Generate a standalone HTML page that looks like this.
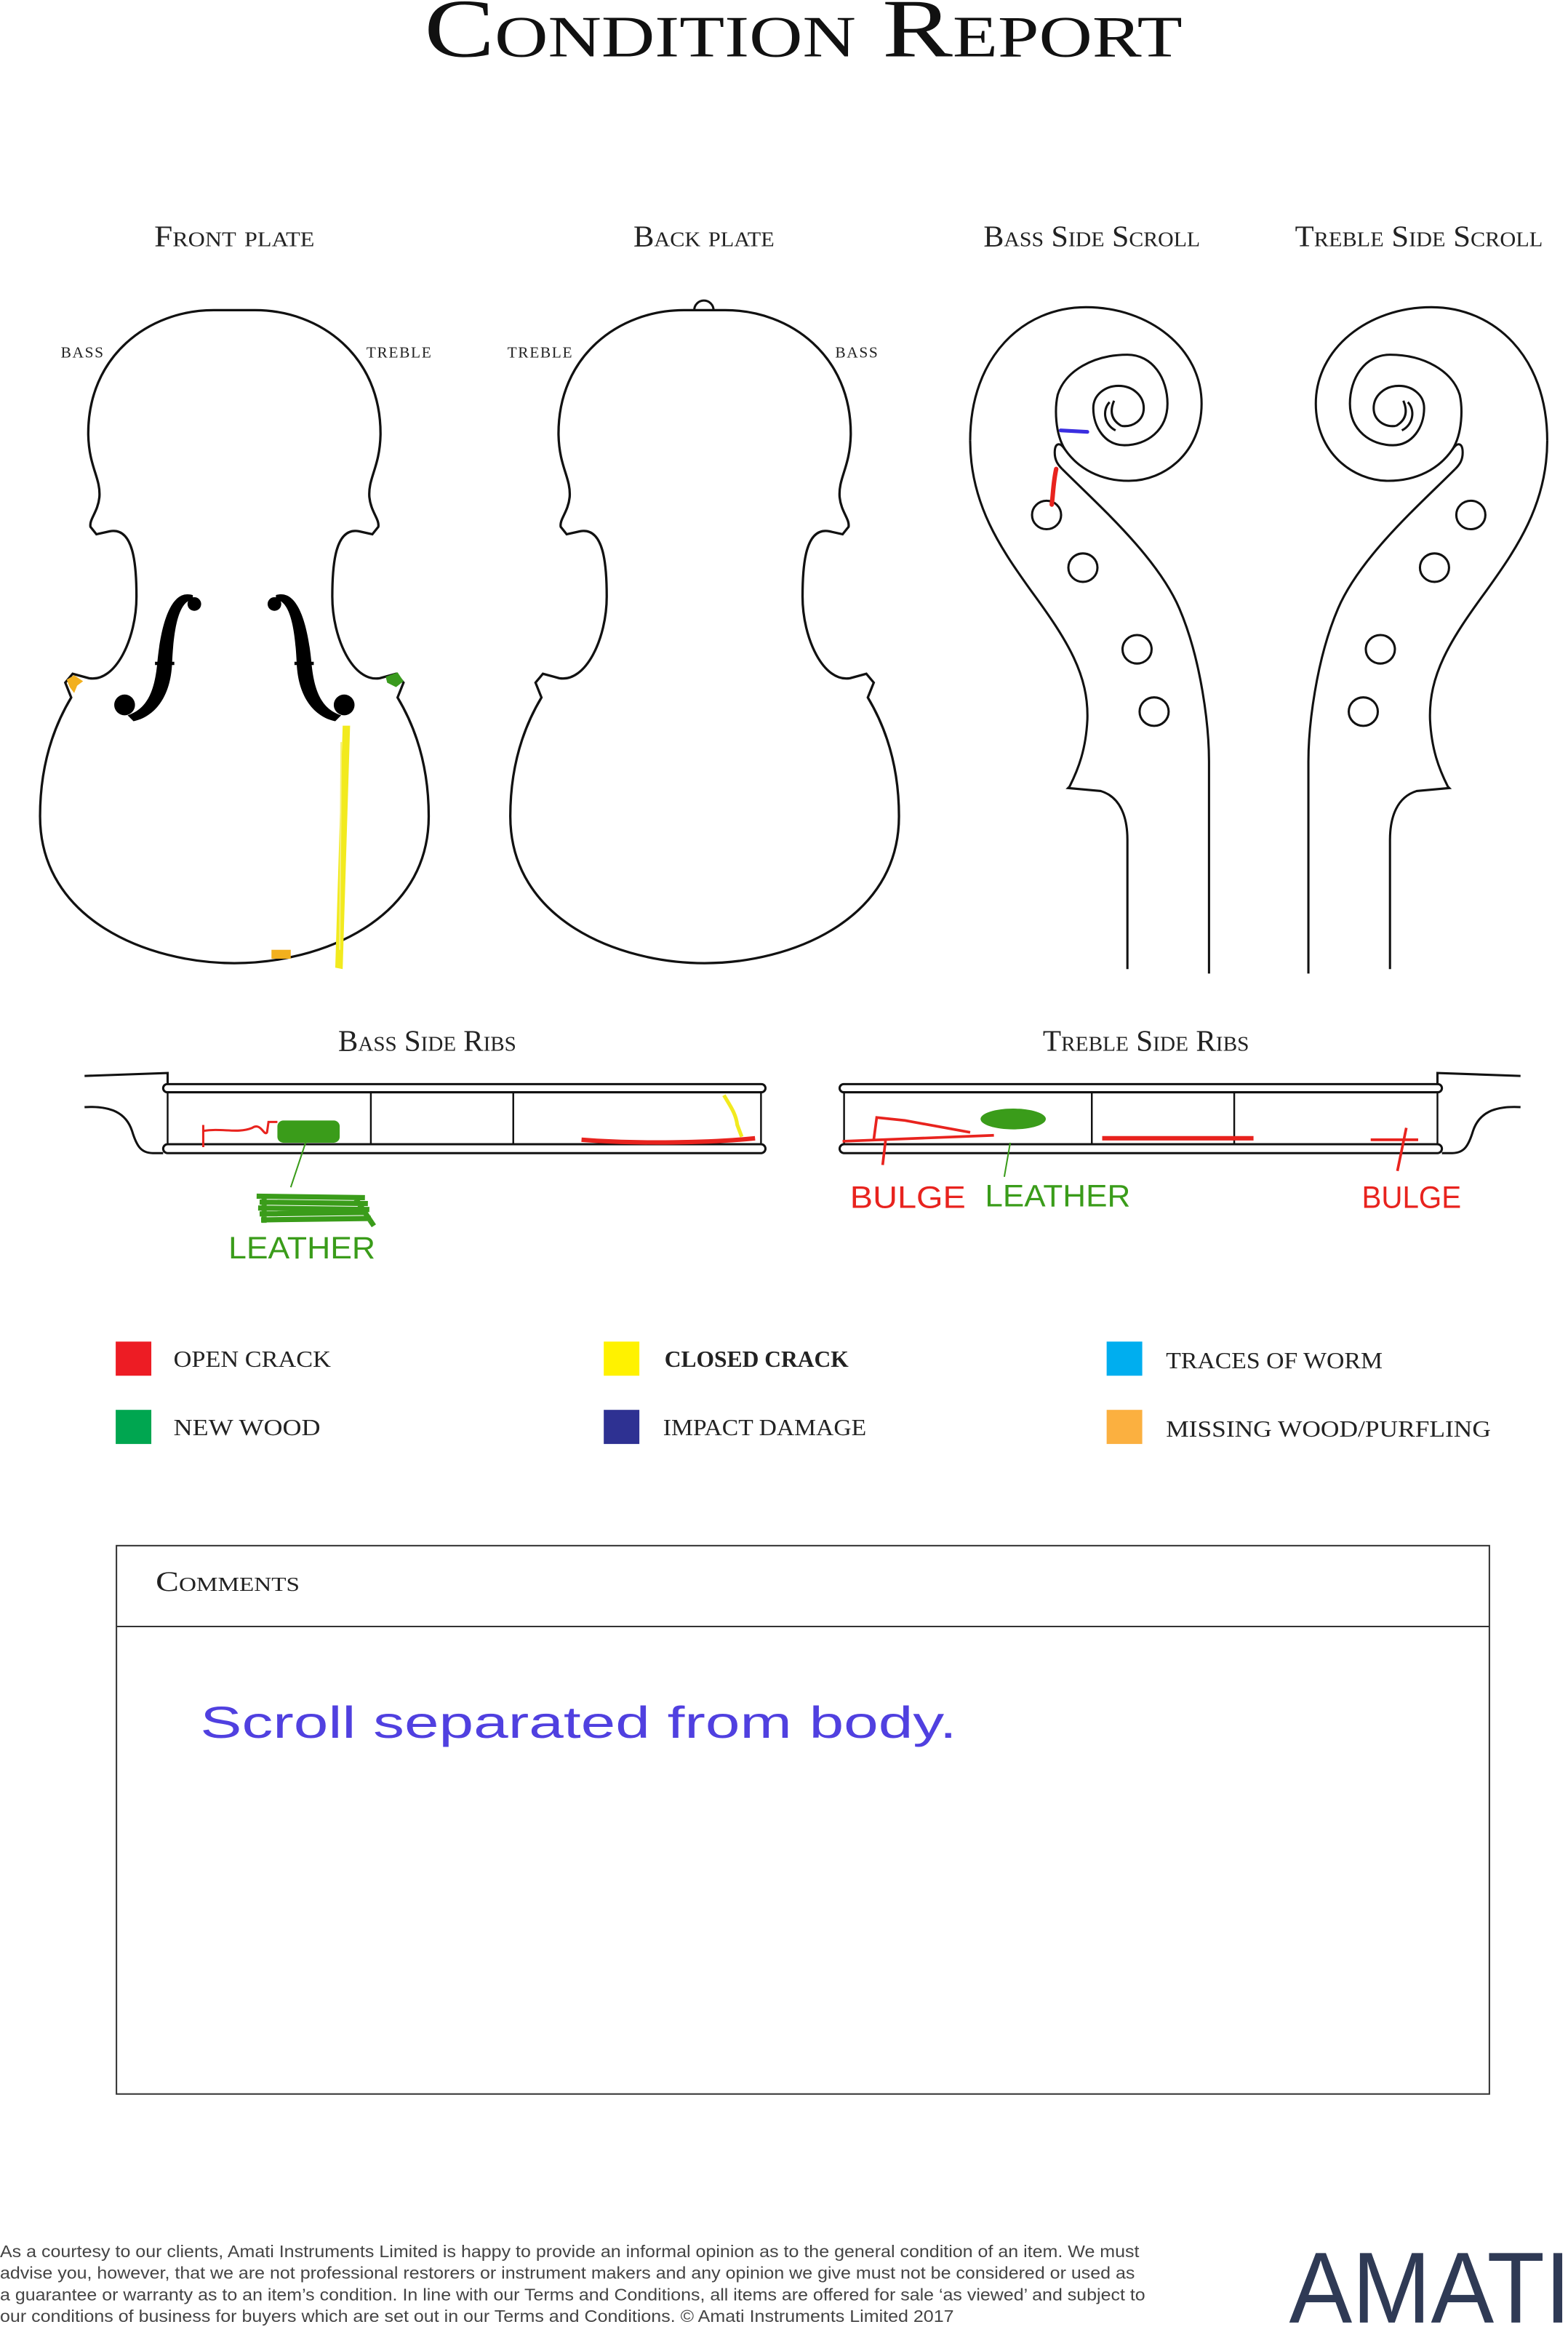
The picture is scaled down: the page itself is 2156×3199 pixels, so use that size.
<!DOCTYPE html>
<html><head><meta charset="utf-8"><style>
html,body{margin:0;padding:0;background:#fff;}
svg{display:block;}
</style></head><body>
<svg xmlns="http://www.w3.org/2000/svg" xmlns:xlink="http://www.w3.org/1999/xlink" width="2156" height="3199" viewBox="0 0 1057 1568" preserveAspectRatio="none">
<defs>
<path id="body" d="M158,209 L144,209 C100,209 59,240 59.5,293 C60,315 68,322 67,335 C66,345 60,350 61,355 L65,360 L74,358 C90,355 92,380 92,402 C92,430 78,460 60,457 L49,454 L44,460 L48,470 C30,500 27,530 27,550 C27,620 100,649 158,649 C216,649 289,620 289,550 C289,530 286,500 268,470 L272,460 L267,454 L256,457 C238,460 224,430 224,402 C224,380 226,355 242,358 L251,360 L255,355 C256,350 250,345 249,335 C248,322 256,315 256.5,293 C257,240 216,209 172,209 Z" fill="none" stroke="#111" stroke-width="1.6"/>
<g id="fhole">
<path d="M130,401 C114,396 108,425 106,447 C104,468 98,478 86,482 L90,486 C104,483 115,470 116,447 C117,425 120,405 130,404 Z" fill="#000"/>
<circle cx="131" cy="407" r="4.6" fill="#000"/>
<circle cx="84" cy="475" r="7" fill="#000"/>
<line x1="104.5" y1="447" x2="117.5" y2="447" stroke="#000" stroke-width="2.2"/>
</g>
<g id="scroll" fill="none" stroke="#111" stroke-width="1.5">
<path d="M716,316 C740,340 780,375 795,410 C810,445 815,490 815,513 L815,656"/>
<path d="M654,297 C654,340 675,370 695,398 C720,432 734,455 733,485 C732,505 727,518 721,530 L720,531 L742,533 C755,537 760,550 760,566 L760,653"/>
<path d="M654,297 C654,240 690,207 732,207 C775,207 810,235 810,272 C810,305 785,324 761,324 C742,324 727,316 718,303 C714,297 711,299 711,305 C711,310 713,313 716,316"/>
<path d="M718,303 C711,292 711,275 713,266 C718,250 737,239 760,239 C777,239 787,255 787,272 C787,290 773,300 758,300 C745,300 737,288 737,275 C737,266 745,260 754,260 C764,260 771,267 771,275 C771,283 764,288 756,287"/>
<path d="M748,271 C743,276 744,286 752,290 M751,270 C748,277 749,283 756,287"/>
<ellipse cx="705.5" cy="347" rx="9.8" ry="9.6"/>
<ellipse cx="730" cy="382.5" rx="9.8" ry="9.6"/>
<ellipse cx="766.5" cy="437.5" rx="9.8" ry="9.6"/>
<ellipse cx="778" cy="479.5" rx="9.8" ry="9.6"/>
</g>
<g id="ribs" fill="none" stroke="#111" stroke-width="1.5">
<rect x="110" y="730.5" width="406" height="5.5" rx="2.75"/>
<rect x="110" y="771" width="406" height="6" rx="3"/>
<line x1="113" y1="736" x2="113" y2="771" stroke-width="1.2"/>
<line x1="513" y1="736" x2="513" y2="771" stroke-width="1.2"/>
<line x1="250" y1="736" x2="250" y2="771" stroke-width="1.2"/>
<line x1="346" y1="736" x2="346" y2="771" stroke-width="1.2"/>
<path d="M57,725 L113,723 L113,731"/>
<path d="M57,746 C75,745 85,750 89,762 C92,772 95,777 103,777 L110,777"/>
</g>
</defs>

<text x="286" y="38" font-family="Liberation Serif, serif" font-size="56" font-variant="small-caps" textLength="511" lengthAdjust="spacingAndGlyphs" fill="#111">Condition Report</text>

<g font-family="Liberation Serif, serif" font-size="20" font-variant="small-caps" fill="#222">
<text x="104" y="166" textLength="108" lengthAdjust="spacingAndGlyphs">Front plate</text>
<text x="427" y="166" textLength="95" lengthAdjust="spacingAndGlyphs">Back plate</text>
<text x="663" y="166" textLength="146" lengthAdjust="spacingAndGlyphs">Bass Side Scroll</text>
<text x="873" y="166" textLength="167" lengthAdjust="spacingAndGlyphs">Treble Side Scroll</text>
<text x="228" y="708" textLength="120" lengthAdjust="spacingAndGlyphs">Bass Side Ribs</text>
<text x="703" y="708" textLength="139" lengthAdjust="spacingAndGlyphs">Treble Side Ribs</text>
</g>
<g font-family="Liberation Serif, serif" font-size="10.5" fill="#222" letter-spacing="0.8">
<text x="41" y="241">BASS</text>
<text x="247" y="241">TREBLE</text>
<text x="342" y="241">TREBLE</text>
<text x="563" y="241">BASS</text>
</g>

<use xlink:href="#body"/>
<use xlink:href="#fhole"/>
<use xlink:href="#fhole" transform="translate(316,0) scale(-1,1)"/>
<path d="M231,489 L236,489 L231,653 L226,652 Z" fill="#f2ea1e"/>
<path d="M230,500 L229,640" stroke="#f6f07a" stroke-width="1"/>
<rect x="183" y="640" width="13" height="6" fill="#f2b01e"/>
<path d="M45,458 L50,455 L56,459 L52,462 L50,467 L47,463 Z" fill="#f2b01e"/>
<path d="M260,456 L268,453 L272,459 L267,463 L261,460 Z" fill="#3a9a1e"/>

<path d="M468,209 A6.5,6.5 0 0 1 481,209" fill="none" stroke="#111" stroke-width="1.5"/>
<use xlink:href="#body" transform="translate(317,0)"/>

<use xlink:href="#scroll"/>
<use xlink:href="#scroll" transform="translate(1697,0) scale(-1,1)"/>
<path d="M715,290 L733,291" stroke="#3a2ee0" stroke-width="2.5" stroke-linecap="round"/>
<path d="M712,316 C710,325 710,332 709,340" stroke="#e8231e" stroke-width="3" fill="none" stroke-linecap="round"/>

<use xlink:href="#ribs"/>
<use xlink:href="#ribs" transform="translate(1082,0) scale(-1,1)"/>

<path d="M137,773 L137,758 M137,762 C150,760 160,764 170,760 C176,756 178,766 180,763 L181,756 L187,756" fill="none" stroke="#e8231e" stroke-width="1.5"/>
<rect x="187" y="755" width="42" height="15" rx="4" fill="#3a9c1a"/>
<path d="M206,770 L196,800" stroke="#3a9c1a" stroke-width="1"/>
<g stroke="#3a9c1a" stroke-width="3.5" fill="none">
<path d="M173,806 L246,807 M175,810 L248,811 M174,814 L249,815 M175,818 L248,817 M176,822 L250,821 M178,806 L178,824 M240,808 L252,826"/>
</g>
<text x="154" y="848" font-family="Liberation Sans, sans-serif" font-size="21" fill="#3a9c1a" textLength="99" lengthAdjust="spacingAndGlyphs">LEATHER</text>
<path d="M392,768 C430,771 480,770 509,767" fill="none" stroke="#e8231e" stroke-width="3"/>
<path d="M488,738 C492,745 496,750 497,758 L500,766" fill="none" stroke="#f2ea1e" stroke-width="2.5"/>

<path d="M568,769 L670,765 M589,768 L591,753 L610,755 L654,763 M597,768 L595,785" fill="none" stroke="#e8231e" stroke-width="1.8"/>
<ellipse cx="683" cy="754" rx="22" ry="7" fill="#3a9c1a"/>
<path d="M681,770 L677,793" stroke="#3a9c1a" stroke-width="1"/>
<path d="M743,767 L845,767" stroke="#e8231e" stroke-width="3"/>
<path d="M924,768 L956,768 M948,760 L942,789" stroke="#e8231e" stroke-width="1.8" fill="none"/>
<g font-family="Liberation Sans, sans-serif" font-size="21">
<text x="573" y="814" fill="#e8231e" textLength="78" lengthAdjust="spacingAndGlyphs">BULGE</text>
<text x="664" y="813" fill="#3a9c1a" textLength="98" lengthAdjust="spacingAndGlyphs">LEATHER</text>
<text x="918" y="814" fill="#e8231e" textLength="67" lengthAdjust="spacingAndGlyphs">BULGE</text>
</g>

<rect x="78" y="904" width="24" height="23" fill="#ed1c24"/>
<rect x="78" y="950" width="24" height="23" fill="#00a650"/>
<rect x="407" y="904" width="24" height="23" fill="#fff200"/>
<rect x="407" y="950" width="24" height="23" fill="#2e3192"/>
<rect x="746" y="904" width="24" height="23" fill="#00aeef"/>
<rect x="746" y="950" width="24" height="23" fill="#fbb040"/>
<g font-family="Liberation Serif, serif" font-size="15.5" fill="#222">
<text x="117" y="921" textLength="106" lengthAdjust="spacingAndGlyphs">OPEN CRACK</text>
<text x="117" y="967" textLength="99" lengthAdjust="spacingAndGlyphs">NEW WOOD</text>
<text x="448" y="921" textLength="124" lengthAdjust="spacingAndGlyphs" font-weight="bold">CLOSED CRACK</text>
<text x="447" y="967" textLength="137" lengthAdjust="spacingAndGlyphs">IMPACT DAMAGE</text>
<text x="786" y="922" textLength="146" lengthAdjust="spacingAndGlyphs">TRACES OF WORM</text>
<text x="786" y="968" textLength="219" lengthAdjust="spacingAndGlyphs">MISSING WOOD/PURFLING</text>
</g>

<rect x="78.5" y="1041.5" width="925.5" height="369.5" fill="none" stroke="#333" stroke-width="1"/>
<line x1="78.5" y1="1096" x2="1004" y2="1096" stroke="#333" stroke-width="1"/>
<text x="105" y="1072" font-family="Liberation Serif, serif" font-size="19" font-variant="small-caps" fill="#222" textLength="97" lengthAdjust="spacingAndGlyphs">Comments</text>
<text x="135" y="1171" font-family="Liberation Sans, sans-serif" font-size="30" fill="#5040e0" textLength="510" lengthAdjust="spacingAndGlyphs">Scroll  separated  from  body.</text>

<g font-family="Liberation Sans, sans-serif" font-size="11.5" fill="#444">
<text x="0" y="1521" textLength="768" lengthAdjust="spacingAndGlyphs">As a courtesy to our clients, Amati Instruments Limited is happy to provide an informal opinion as to the general condition of an item. We must</text>
<text x="0" y="1535.5" textLength="765" lengthAdjust="spacingAndGlyphs">advise you, however, that we are not professional restorers or instrument makers and any opinion we give must not be considered or used as</text>
<text x="0" y="1550" textLength="772" lengthAdjust="spacingAndGlyphs">a guarantee or warranty as to an item’s condition. In line with our Terms and Conditions, all items are offered for sale ‘as viewed’ and subject to</text>
<text x="0" y="1564.5" textLength="643" lengthAdjust="spacingAndGlyphs">our conditions of business for buyers which are set out in our Terms and Conditions. © Amati Instruments Limited 2017</text>
</g>
<text x="869" y="1565" font-family="Liberation Sans, sans-serif" font-size="68" fill="#2f3a55" textLength="190" lengthAdjust="spacingAndGlyphs">AMATI</text>
</svg>
</body></html>
